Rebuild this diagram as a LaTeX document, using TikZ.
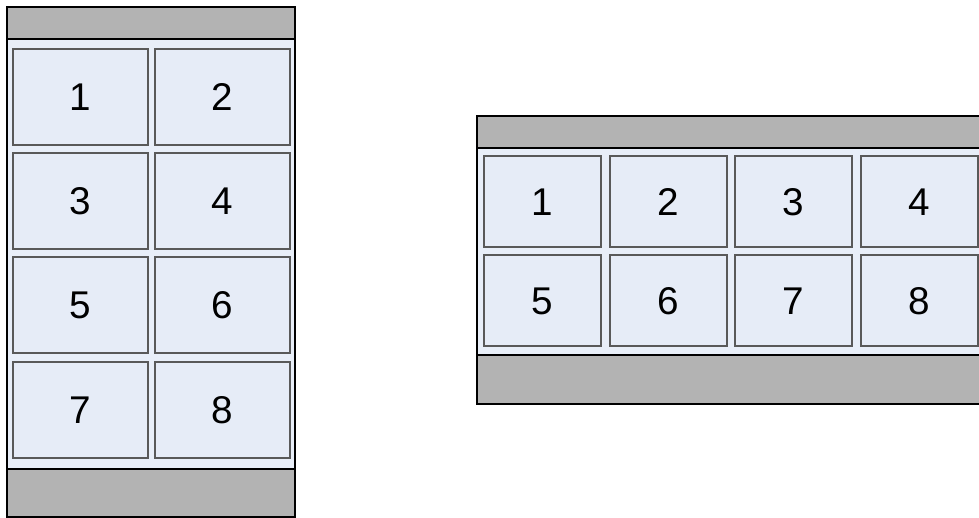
\documentclass[tikz,border=0pt]{standalone}
\usepackage{fontspec}
\setmainfont{Liberation Sans}
\definecolor{bargray}{HTML}{B3B3B3}
\definecolor{screenbg}{HTML}{E8EEF8}
\definecolor{cellbg}{HTML}{E6ECF7}
\definecolor{cellborder}{HTML}{595959}
\begin{document}
\begin{tikzpicture}[x=0.75pt,y=-0.75pt,
  frame/.style={draw=black,line width=1.5pt},
  bar/.style={fill=bargray,draw=black,line width=1.5pt},
  screen/.style={fill=screenbg},
  cellbase/.style={draw=cellborder,fill=cellbg,line width=1.5pt,inner sep=0pt,text height=20.8pt,text depth=0pt,font=\fontsize{29}{32}\selectfont},
  cellL/.style={cellbase,minimum width=101.25pt,minimum height=72pt},
  cellR/.style={cellbase,minimum width=87.75pt,minimum height=68.25pt}]
\useasboundingbox (0,0) rectangle (979,518);
% left phone
\fill[screen] (7,39) rectangle (295,469);
\draw[bar] (7,7) rectangle (295,39);
\draw[bar] (7,469) rectangle (295,517);
\node[cellL] (l1) at (80.5,97) {1};
\node[cellL] (l2) at (222.5,97) {2};
\node[cellL] (l3) at (80.5,201) {3};
\node[cellL] (l4) at (222.5,201) {4};
\node[cellL] (l5) at (80.5,305) {5};
\node[cellL] (l6) at (222.5,305) {6};
\node[cellL] (l7) at (80.5,409.5) {7};
\node[cellL] (l8) at (222.5,409.5) {8};
\draw[frame] (7,7) rectangle (295,517);
% right phone
\fill[screen] (477,148) rectangle (990,355);
\draw[bar] (477,116) rectangle (990,148);
\draw[bar] (477,355) rectangle (990,404);
\node[cellR] (r1) at (542.5,201.5) {1};
\node[cellR] (r2) at (668,201.5) {2};
\node[cellR] (r3) at (793.5,201.5) {3};
\node[cellR] (r4) at (919.5,201.5) {4};
\node[cellR] (r5) at (542.5,300.5) {5};
\node[cellR] (r6) at (668,300.5) {6};
\node[cellR] (r7) at (793.5,300.5) {7};
\node[cellR] (r8) at (919.5,300.5) {8};
\draw[frame] (477,116) rectangle (990,404);
\end{tikzpicture}
\end{document}
